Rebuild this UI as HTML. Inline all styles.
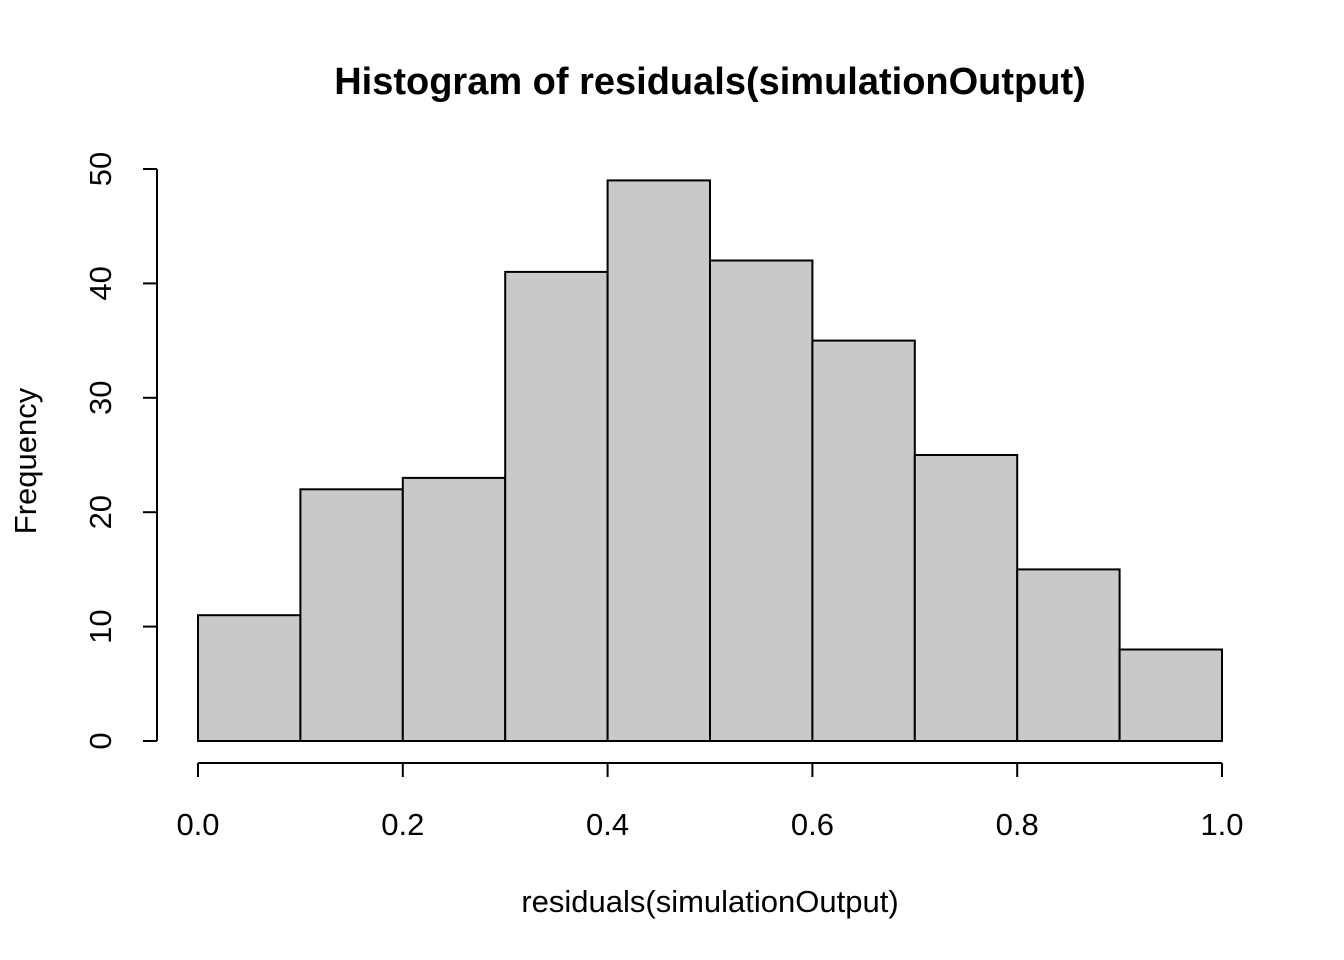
<!DOCTYPE html>
<html><head><style>body{margin:0;background:#fff}svg{display:block}</style></head><body>
<svg width="1344" height="960" xmlns="http://www.w3.org/2000/svg" font-family="Liberation Sans, Arial, sans-serif">
<rect width="1344" height="960" fill="#fff"/>
<text x="710" y="94" font-size="38" font-weight="bold" text-anchor="middle">Histogram of residuals(simulationOutput)</text>
<g fill="#c9c9c9" stroke="#000" stroke-width="2">
<rect x="198" y="615.2" width="102.4" height="125.8"/>
<rect x="300.4" y="489.3" width="102.4" height="251.7"/>
<rect x="402.8" y="477.9" width="102.4" height="263.1"/>
<rect x="505.2" y="271.9" width="102.4" height="469.1"/>
<rect x="607.6" y="180.4" width="102.4" height="560.6"/>
<rect x="710" y="260.5" width="102.4" height="480.5"/>
<rect x="812.4" y="340.6" width="102.4" height="400.4"/>
<rect x="914.8" y="455" width="102.4" height="286"/>
<rect x="1017.2" y="569.4" width="102.4" height="171.6"/>
<rect x="1119.6" y="649.5" width="102.4" height="91.5"/>
</g>
<g stroke="#000" stroke-width="2" fill="none">
<line x1="157" y1="169" x2="157" y2="741"/>
<line x1="143" y1="741" x2="157" y2="741"/>
<line x1="143" y1="626.6" x2="157" y2="626.6"/>
<line x1="143" y1="512.2" x2="157" y2="512.2"/>
<line x1="143" y1="397.8" x2="157" y2="397.8"/>
<line x1="143" y1="283.4" x2="157" y2="283.4"/>
<line x1="143" y1="169" x2="157" y2="169"/>
<line x1="198" y1="763" x2="1222" y2="763"/>
<line x1="198" y1="763" x2="198" y2="777"/>
<line x1="402.8" y1="763" x2="402.8" y2="777"/>
<line x1="607.6" y1="763" x2="607.6" y2="777"/>
<line x1="812.4" y1="763" x2="812.4" y2="777"/>
<line x1="1017.2" y1="763" x2="1017.2" y2="777"/>
<line x1="1222" y1="763" x2="1222" y2="777"/>
</g>
<g font-size="31" text-anchor="middle">
<text x="198" y="835">0.0</text>
<text x="402.8" y="835">0.2</text>
<text x="607.6" y="835">0.4</text>
<text x="812.4" y="835">0.6</text>
<text x="1017.2" y="835">0.8</text>
<text x="1222" y="835">1.0</text>
<text transform="translate(111,741) rotate(-90)">0</text>
<text transform="translate(111,626.6) rotate(-90)">10</text>
<text transform="translate(111,512.2) rotate(-90)">20</text>
<text transform="translate(111,397.8) rotate(-90)">30</text>
<text transform="translate(111,283.4) rotate(-90)">40</text>
<text transform="translate(111,169) rotate(-90)">50</text>
<text x="710" y="912">residuals(simulationOutput)</text>
<text transform="translate(36,461) rotate(-90)">Frequency</text>
</g>
</svg>
</body></html>
